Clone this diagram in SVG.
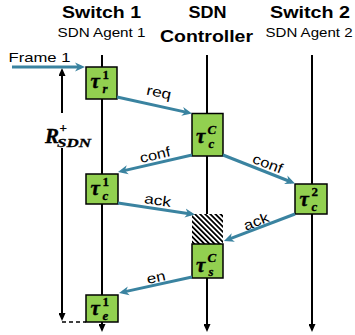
<svg xmlns="http://www.w3.org/2000/svg" width="355" height="335" viewBox="0 0 355 335">
<style>
.hd{font-family:"Liberation Sans",Arial,sans-serif;font-weight:bold;font-size:16px;fill:#000;text-anchor:middle}
.sb{font-family:"Liberation Sans",Arial,sans-serif;font-size:13px;fill:#000;text-anchor:middle}
.lb{font-family:"Liberation Sans",Arial,sans-serif;font-size:14px;fill:#000;text-anchor:middle}
.life{stroke:#000;stroke-width:2;fill:none}
.msg{stroke:#3A83A0;stroke-width:3;fill:none;marker-end:url(#ta)}
.box{fill:#92D050;stroke:#000;stroke-width:1.5}
.tau{font-family:"Liberation Serif","DejaVu Serif",serif;font-weight:bold;font-style:italic;font-size:21px;fill:#000;stroke:#000;stroke-width:0.4}
.sc{font-family:"Liberation Serif","DejaVu Serif",serif;font-weight:bold;font-style:italic;font-size:13px;fill:#000;stroke:#000;stroke-width:0.3}
.dg{font-family:"Liberation Serif","DejaVu Serif",serif;font-weight:bold;font-size:13px;fill:#000;stroke:#000;stroke-width:0.3}
</style>
<defs>
<marker id="ta" viewBox="0 0 10 10" refX="6" refY="5" markerWidth="10" markerHeight="10" markerUnits="userSpaceOnUse" orient="auto">
<path d="M0,0.5 L10,5 L0,9.5 L3,5 z" fill="#3A83A0"/>
</marker>
<marker id="ba" viewBox="0 0 8 7" refX="6" refY="3.5" markerWidth="8" markerHeight="7" markerUnits="userSpaceOnUse" orient="auto">
<path d="M0,0 L8,3.5 L0,7 z" fill="#000"/>
</marker>
<pattern id="hatch" width="3.6" height="3.6" patternUnits="userSpaceOnUse" patternTransform="rotate(-45)">
<rect width="1.8" height="3.6" fill="#000"/>
</pattern>
</defs>
<rect width="355" height="335" fill="#fff"/>

<g id="headers">
<text class="hd" x="101.5" y="18" textLength="79" lengthAdjust="spacingAndGlyphs">Switch 1</text>
<text class="sb" x="101.5" y="37.3" textLength="88" lengthAdjust="spacingAndGlyphs">SDN Agent 1</text>
<text class="hd" x="207.5" y="17.5" textLength="38" lengthAdjust="spacingAndGlyphs">SDN</text>
<text class="hd" x="206.5" y="41.5" textLength="93" lengthAdjust="spacingAndGlyphs">Controller</text>
<text class="hd" x="310" y="18" textLength="80" lengthAdjust="spacingAndGlyphs">Switch 2</text>
<text class="sb" x="309" y="37.3" textLength="87" lengthAdjust="spacingAndGlyphs">SDN Agent 2</text>
</g>

<g id="lifelines">
<path class="life" d="M102,55 V330" marker-end="url(#ba)"/>
<path class="life" d="M207,55 V330" marker-end="url(#ba)"/>
<path class="life" d="M312,55 V330" marker-end="url(#ba)"/>
</g>

<g id="rsdn">
<path class="life" d="M62,113 V70" marker-end="url(#ba)"/>
<path class="life" d="M62,148 V319" marker-end="url(#ba)"/>
<path d="M62,322 H86" stroke="#000" stroke-width="1.5" stroke-dasharray="4,3"/>
<text class="tau" x="45" y="143" font-size="17" stroke-width="0.3">R</text>
<text class="dg" x="59.5" y="132" font-size="13">+</text>
<text class="sc" x="57" y="147" font-size="13" textLength="34" lengthAdjust="spacingAndGlyphs">SDN</text>
</g>

<g id="frame1">
<text class="sb" x="39.5" y="61.7" font-size="15" textLength="62" lengthAdjust="spacingAndGlyphs">Frame 1</text>
</g>

<g id="node-tr1">
<rect class="box" x="86" y="67" width="31" height="32"/>
<text class="tau" x="90.5" y="88">τ</text>
<text class="dg" x="102.5" y="79">1</text>
<text class="sc" x="102.5" y="93">r</text>
</g>
<g id="node-tcC">
<rect class="box" x="192" y="113.5" width="31" height="42.5"/>
<text class="tau" x="196" y="143">τ</text>
<text class="sc" x="207.5" y="133.5">C</text>
<text class="sc" x="208.5" y="147.5">c</text>
</g>
<g id="node-tc1">
<rect class="box" x="86" y="174" width="32" height="30"/>
<text class="tau" x="90.5" y="195">τ</text>
<text class="dg" x="102.5" y="185.5">1</text>
<text class="sc" x="102.5" y="199.5">c</text>
</g>
<g id="node-tc2">
<rect class="box" x="295" y="184" width="32" height="30"/>
<text class="tau" x="299.5" y="206">τ</text>
<text class="dg" x="311.5" y="196">2</text>
<text class="sc" x="311.5" y="210.5">c</text>
</g>
<g id="node-hatch">
<rect x="192" y="214" width="31" height="30" fill="#fff"/>
<rect x="192" y="214" width="31" height="30" fill="url(#hatch)"/>
</g>
<g id="node-tsC">
<rect class="box" x="192" y="244" width="31" height="34"/>
<text class="tau" x="196" y="271.5">τ</text>
<text class="sc" x="207.5" y="261.5">C</text>
<text class="sc" x="208.5" y="275.5">s</text>
</g>
<g id="node-te1">
<rect class="box" x="86" y="295" width="32" height="27"/>
<text class="tau" x="90.5" y="315">τ</text>
<text class="dg" x="102.5" y="306">1</text>
<text class="sc" x="102.5" y="320">e</text>
</g>

<g id="connectors">
<path class="msg" d="M12,67 H81"/>
<path class="msg" d="M117,97 L188.1,112.6"/>
<path class="msg" d="M192,155 L121.9,171.1"/>
<path class="msg" d="M223,155 L291.3,182"/>
<path class="msg" d="M118,203 L191,213.9"/>
<path class="msg" d="M295,214 L227.7,239.6"/>
<path class="msg" d="M192,277 L122.9,292.1"/>
<text class="lb" transform="translate(158,97) rotate(12)" textLength="25" lengthAdjust="spacingAndGlyphs">req</text>
<text class="lb" transform="translate(156,159.5) rotate(-13)" textLength="31" lengthAdjust="spacingAndGlyphs">conf</text>
<text class="lb" transform="translate(266,168) rotate(21)" textLength="31" lengthAdjust="spacingAndGlyphs">conf</text>
<text class="lb" transform="translate(157,205) rotate(8)" textLength="27" lengthAdjust="spacingAndGlyphs">ack</text>
<text class="lb" transform="translate(258,226) rotate(-21)" textLength="26" lengthAdjust="spacingAndGlyphs">ack</text>
<text class="lb" transform="translate(157,282) rotate(-12)" textLength="19" lengthAdjust="spacingAndGlyphs">en</text>
</g>
</svg>
